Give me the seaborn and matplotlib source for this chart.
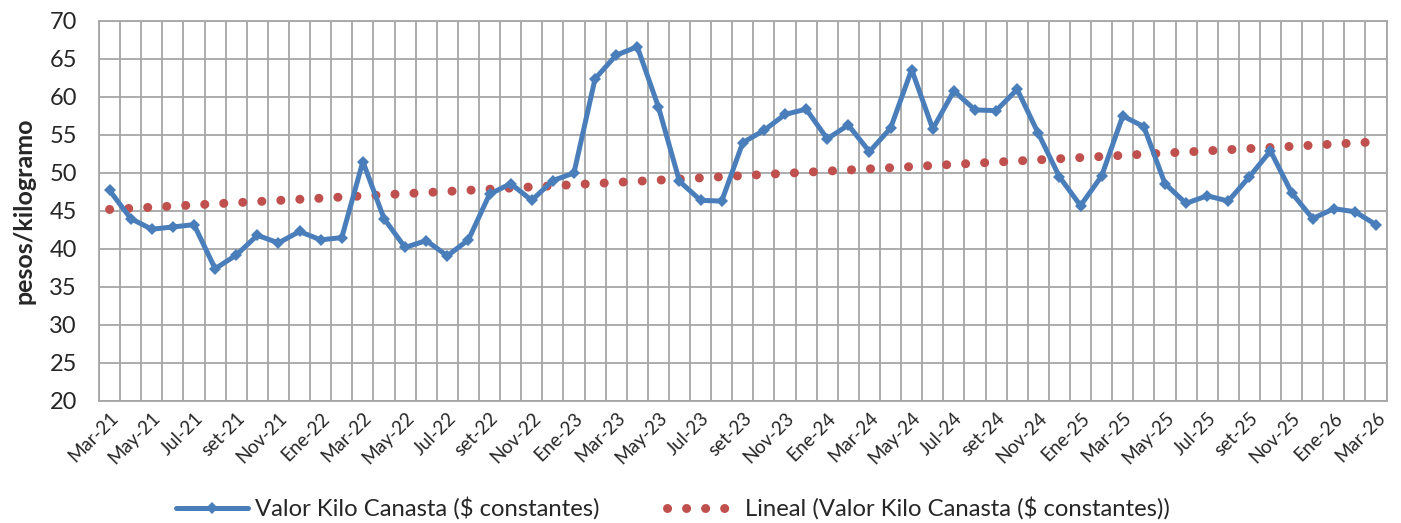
import numpy as np
import matplotlib
matplotlib.use("Agg")
import matplotlib.pyplot as plt
import seaborn as sns

# === Data ===
meses = ["Mar", "Abr", "May", "Jun", "Jul", "Ago", "set", "Oct", "Nov", "Dic", "Ene", "Feb"]
fechas = []
for i in range(61):
    m = meses[i % 12]
    anio = 21 + (i + 2) // 12
    fechas.append(f"{m}-{anio}")

valor_kilo = [
    47.7, 44.0, 42.6, 42.9, 43.2, 37.4, 39.2, 41.8, 40.8, 42.3, 41.2, 41.5,
    51.5, 44.0, 40.2, 41.1, 39.1, 41.2, 47.2, 48.6, 46.4, 49.0, 50.0, 62.4,
    65.5, 66.6, 58.7, 48.9, 46.4, 46.3, 54.0, 55.6, 57.7, 58.4, 54.5, 56.3,
    52.8, 55.9, 63.6, 55.8, 60.8, 58.3, 58.2, 61.0, 55.2, 49.5, 45.7, 49.6,
    57.5, 56.1, 48.6, 46.0, 47.0, 46.3, 49.5, 52.9, 47.4, 44.0, 45.3, 44.9,
    43.2,
]
tendencia_x = [0, 60]
tendencia_y = [45.2, 54.1]

azul = "#4A7EBB"
rojo = "#C0504D"
gris = "#A6A6A6"

sns.set_style("white")
plt.rcParams["font.family"] = ["Lato", "DejaVu Sans"]

fig = plt.figure(figsize=(14.01, 5.23), dpi=100)
ax = fig.add_axes([0.0707, 0.2333, 0.919, 0.7266])

x = np.arange(len(valor_kilo))
sns.lineplot(x=x, y=valor_kilo, ax=ax, color=azul, lw=3.6, marker="D",
             markersize=6, markeredgewidth=0, label="Valor Kilo Canasta ($ constantes)",
             zorder=3)
ax.plot(tendencia_x, tendencia_y, color=rojo, lw=6.5, linestyle=(0, (0.01, 2.1)),
        dash_capstyle="round", label="Lineal (Valor Kilo Canasta ($ constantes))", zorder=2)

ax.set_xlim(-0.5, 60.5)
ax.set_ylim(20, 70)
ax.set_yticks(np.arange(20, 71, 5))

# gridlines at every month boundary, tick marks every two months
ax.set_xticks(np.arange(-0.5, 61, 1), minor=True)
ax.set_xticks(np.arange(-0.5, 60, 2))
ax.set_xticklabels([])
ax.grid(True, which="both", color=gris, lw=1.3)
ax.tick_params(axis="x", which="major", length=8, width=1.3, color=gris, direction="out")
ax.tick_params(axis="x", which="minor", length=0)
ax.tick_params(axis="y", length=8, width=1.3, color=gris, direction="out",
               labelsize=17, pad=8)

# month labels centred on the data points
sec = ax.secondary_xaxis("bottom")
sec.set_xticks(x[::2])
sec.set_xticklabels(fechas[::2], rotation=45, ha="right", rotation_mode="anchor",
                    fontsize=13.5)
sec.tick_params(length=0, pad=6)
sec.spines["bottom"].set_visible(False)

for s in ax.spines.values():
    s.set_color(gris)
    s.set_linewidth(1.3)

ax.set_xlabel("")
ax.set_ylabel("pesos/kilogramo", fontsize=18, fontweight="bold", labelpad=10)

ax.legend(loc="center", bbox_to_anchor=(0.446, -0.283), ncol=2, frameon=False,
          fontsize=17.2, handlelength=3.0, handletextpad=0.3, columnspacing=2.8,
          borderaxespad=0)

fig.savefig("out.png", dpi=100)
